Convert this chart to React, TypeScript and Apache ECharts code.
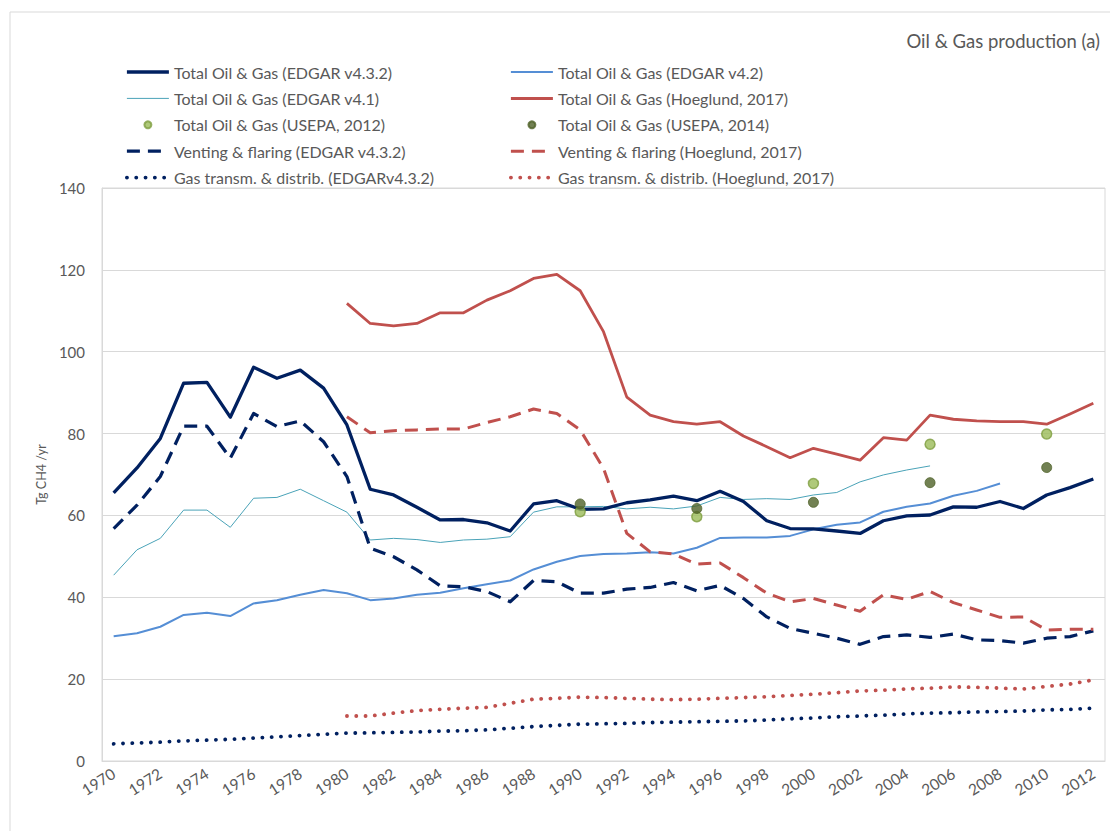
import React, { useEffect, useRef } from "react";
import * as echarts from "echarts";

const years = [
  "1970", "1971", "1972", "1973", "1974", "1975", "1976", "1977", "1978", "1979",
  "1980", "1981", "1982", "1983", "1984", "1985", "1986", "1987", "1988", "1989",
  "1990", "1991", "1992", "1993", "1994", "1995", "1996", "1997", "1998", "1999",
  "2000", "2001", "2002", "2003", "2004", "2005", "2006", "2007", "2008", "2009",
  "2010", "2011", "2012",
];

const totalEdgar432 = [
  65.5, 71.6, 78.8, 92.3, 92.5, 84.0, 96.2, 93.5, 95.5, 91.1,
  82.1, 66.4, 65.0, 62.0, 58.9, 59.0, 58.2, 56.2, 62.8, 63.6,
  61.5, 61.6, 63.1, 63.8, 64.7, 63.6, 65.9, 63.4, 58.7, 56.8,
  56.7, 56.2, 55.6, 58.7, 59.9, 60.1, 62.1, 62.0, 63.4, 61.7,
  65.0, 66.8, 68.9,
];

const totalEdgar42 = [
  30.5, 31.2, 32.8, 35.7, 36.2, 35.4, 38.5, 39.3, 40.6, 41.8,
  41.0, 39.3, 39.7, 40.6, 41.1, 42.2, 43.2, 44.1, 46.8, 48.7,
  50.1, 50.6, 50.7, 51.0, 50.7, 52.1, 54.5, 54.6, 54.6, 55.0,
  56.6, 57.7, 58.3, 60.9, 62.1, 62.9, 64.8, 66.0, 67.8, null,
  null, null, null,
];

const totalEdgar41 = [
  45.4, 51.6, 54.4, 61.3, 61.3, 57.1, 64.2, 64.4, 66.4, 63.6,
  60.8, 54.0, 54.4, 54.1, 53.4, 54.0, 54.2, 54.8, 60.8, 62.1,
  62.1, 62.2, 61.6, 62.0, 61.6, 62.3, 64.4, 63.9, 64.1, 63.9,
  65.0, 65.6, 68.2, 69.9, 71.1, 72.1, null, null, null, null,
  null, null, null,
];

const totalHoeglund = [
  null, null, null, null, null, null, null, null, null, null,
  111.8, 106.9, 106.3, 106.9, 109.5, 109.5, 112.6, 114.9, 117.9, 118.9,
  114.9, 104.9, 88.9, 84.5, 82.9, 82.3, 82.9, 79.4, 76.8, 74.1,
  76.4, 75.0, 73.5, 79.0, 78.4, 84.5, 83.5, 83.1, 82.9, 82.9,
  82.3, 84.8, 87.4,
];

const ventEdgar = [
  56.8, 62.5, 69.5, 81.8, 81.8, 74.0, 84.9, 81.7, 83.1, 78.0,
  69.5, 52.0, 49.9, 46.7, 42.8, 42.6, 41.4, 38.9, 44.1, 43.8,
  41.0, 41.0, 42.0, 42.4, 43.6, 41.6, 42.9, 39.7, 35.2, 32.4,
  31.2, 30.0, 28.5, 30.4, 30.8, 30.2, 31.0, 29.6, 29.4, 28.8,
  30.0, 30.4, 31.8,
];

const ventHoeglund = [
  null, null, null, null, null, null, null, null, null, null,
  84.1, 80.2, 80.7, 80.9, 81.1, 81.1, 82.7, 84.1, 86.0, 84.9,
  80.9, 71.5, 55.6, 51.1, 50.6, 48.1, 48.4, 44.8, 41.0, 38.9,
  39.7, 38.1, 36.6, 40.6, 39.5, 41.4, 38.7, 36.9, 35.1, 35.2,
  32.0, 32.2, 32.2,
];

const gasEdgar = [
  4.2, 4.4, 4.6, 4.9, 5.1, 5.3, 5.6, 5.9, 6.2, 6.5,
  6.8, 6.9, 7.0, 7.1, 7.3, 7.4, 7.6, 8.0, 8.4, 8.7,
  9.0, 9.1, 9.2, 9.4, 9.5, 9.6, 9.7, 9.8, 10.0, 10.3,
  10.5, 10.8, 11.0, 11.2, 11.5, 11.7, 11.8, 12.0, 12.1, 12.2,
  12.5, 12.6, 12.9,
];

const gasHoeglund = [
  null, null, null, null, null, null, null, null, null, null,
  11.0, 11.0, 11.7, 12.3, 12.6, 12.9, 13.1, 14.1, 15.1, 15.3,
  15.6, 15.5, 15.3, 15.1, 15.0, 15.1, 15.3, 15.5, 15.7, 16.0,
  16.3, 16.7, 17.1, 17.3, 17.6, 17.8, 18.1, 18.0, 17.8, 17.6,
  18.2, 18.8, 19.8,
];

const epaYears = ["1990", "1995", "2000", "2005", "2010"];
const usepa2012 = [60.9, 59.7, 67.8, 77.4, 79.9];
const usepa2014 = [62.8, 61.7, 63.2, 68.0, 71.7];

const N_432 = "Total Oil & Gas (EDGAR v4.3.2)";
const N_42 = "Total Oil & Gas (EDGAR v4.2)";
const N_41 = "Total Oil & Gas (EDGAR v4.1)";
const N_HOE = "Total Oil & Gas (Hoeglund, 2017)";
const N_EPA12 = "Total Oil & Gas (USEPA, 2012)";
const N_EPA14 = "Total Oil & Gas (USEPA, 2014)";
const N_VE = "Venting & flaring (EDGAR v4.3.2)";
const N_VH = "Venting & flaring (Hoeglund, 2017)";
const N_GE = "Gas transm. & distrib. (EDGARv4.3.2)";
const N_GH = "Gas transm. & distrib. (Hoeglund, 2017)";

const NAVY = "#002060";
const RED = "#C0504D";
const MBLUE = "#558ED5";
const TEAL = "#4AA3B8";
const FONT = "Lato, 'Open Sans', sans-serif";
const TXT = "#595959";

export default function App() {
  const ref = useRef<HTMLDivElement>(null);

  useEffect(() => {
    if (!ref.current) return;
    const chart = echarts.init(ref.current, null, { renderer: "svg" });

    const lineSeries = (
      name: string,
      data: (number | null)[],
      color: string,
      width: number,
      type: any,
      cap: any = "butt"
    ) => ({
      name,
      type: "line",
      data,
      symbol: "none",
      connectNulls: false,
      itemStyle: { color },
      lineStyle: { color, width, type, cap, join: "round" },
      emphasis: { disabled: true },
    });

    const hideSym = { color: "rgba(0,0,0,0)", borderWidth: 0, opacity: 0 };
    const lineItem = (name: string, width: number) => ({
      name,
      itemStyle: hideSym,
      lineStyle: { width },
    });

    const legendCommon = {
      orient: "vertical",
      top: 49,
      itemWidth: 42,
      itemHeight: 7,
      itemGap: 6.4,
      selectedMode: false,
      textStyle: { fontFamily: FONT, fontSize: 16, color: TXT, lineHeight: 20 },
    };

    const option: any = {
      animation: false,
      title: {
        text: "Oil & Gas production (a)",
        right: 13,
        top: 18,
        textStyle: { fontFamily: FONT, fontSize: 18.5, fontWeight: "normal", color: TXT },
      },
      legend: [
        {
          ...legendCommon,
          left: 112,
          data: [
            lineItem(N_432, 3.3),
            lineItem(N_41, 1),
            { name: N_EPA12 },
            lineItem(N_VE, 3.2),
            lineItem(N_GE, 3.8),
          ],
        },
        {
          ...legendCommon,
          left: 496,
          data: [
            lineItem(N_42, 2),
            lineItem(N_HOE, 3),
            { name: N_EPA14 },
            lineItem(N_VH, 3),
            lineItem(N_GH, 3.8),
          ],
        },
      ],
      grid: {
        left: 94,
        right: 13,
        top: 180,
        bottom: 70,
        show: true,
        borderColor: "#D9D9D9",
        borderWidth: 1,
      },
      xAxis: {
        type: "category",
        data: years,
        boundaryGap: true,
        axisLine: { show: true, lineStyle: { color: "#D9D9D9" } },
        axisTick: { show: false },
        axisLabel: {
          interval: 1,
          rotate: 32,
          margin: 11,
          fontFamily: FONT,
          fontSize: 15.5,
          color: TXT,
        },
      },
      yAxis: {
        type: "value",
        min: 0,
        max: 140,
        interval: 20,
        name: "Tg CH4 /yr",
        nameLocation: "middle",
        nameGap: 50,
        nameTextStyle: { fontFamily: FONT, fontSize: 12.5, color: TXT },
        axisLine: { show: true, lineStyle: { color: "#D9D9D9" } },
        axisTick: { show: false },
        axisLabel: { margin: 17, fontFamily: FONT, fontSize: 15, color: TXT },
        splitLine: { lineStyle: { color: "#D9D9D9", width: 1 } },
      },
      graphic: [
        {
          type: "rect",
          shape: { x: 2, y: 4, width: 1130, height: 840 },
          style: { fill: "none", stroke: "#D9D9D9", lineWidth: 1 },
          silent: true,
          z: -10,
        },
      ],
      series: [
        lineSeries(N_41, totalEdgar41, TEAL, 1, "solid"),
        lineSeries(N_42, totalEdgar42, MBLUE, 2, "solid"),
        lineSeries(N_GE, gasEdgar, NAVY, 3.8, [0.1, 9.2], "round"),
        lineSeries(N_GH, gasHoeglund, RED, 3.8, [0.1, 9.2], "round"),
        lineSeries(N_VE, ventEdgar, NAVY, 3.2, [13, 8]),
        lineSeries(N_VH, ventHoeglund, RED, 3, [13, 8]),
        lineSeries(N_HOE, totalHoeglund, RED, 2.8, "solid"),
        lineSeries(N_432, totalEdgar432, NAVY, 3.3, "solid"),
        {
          name: N_EPA12,
          type: "scatter",
          data: epaYears.map((y, i) => [y, usepa2012[i]]),
          symbol: "circle",
          symbolSize: 10,
          itemStyle: { color: "#9BBB59", borderColor: "#7E9D40", borderWidth: 1.5 },
          emphasis: { disabled: true },
          z: 5,
        },
        {
          name: N_EPA14,
          type: "scatter",
          data: epaYears.map((y, i) => [y, usepa2014[i]]),
          symbol: "circle",
          symbolSize: 10,
          itemStyle: { color: "#4F6228", borderColor: "#4F6228", borderWidth: 1 },
          emphasis: { disabled: true },
          z: 5,
        },
      ],
    };

    chart.setOption(option);
    return () => chart.dispose();
  }, []);

  return <div ref={ref} style={{ width: 1110, height: 823 }} />;
}
